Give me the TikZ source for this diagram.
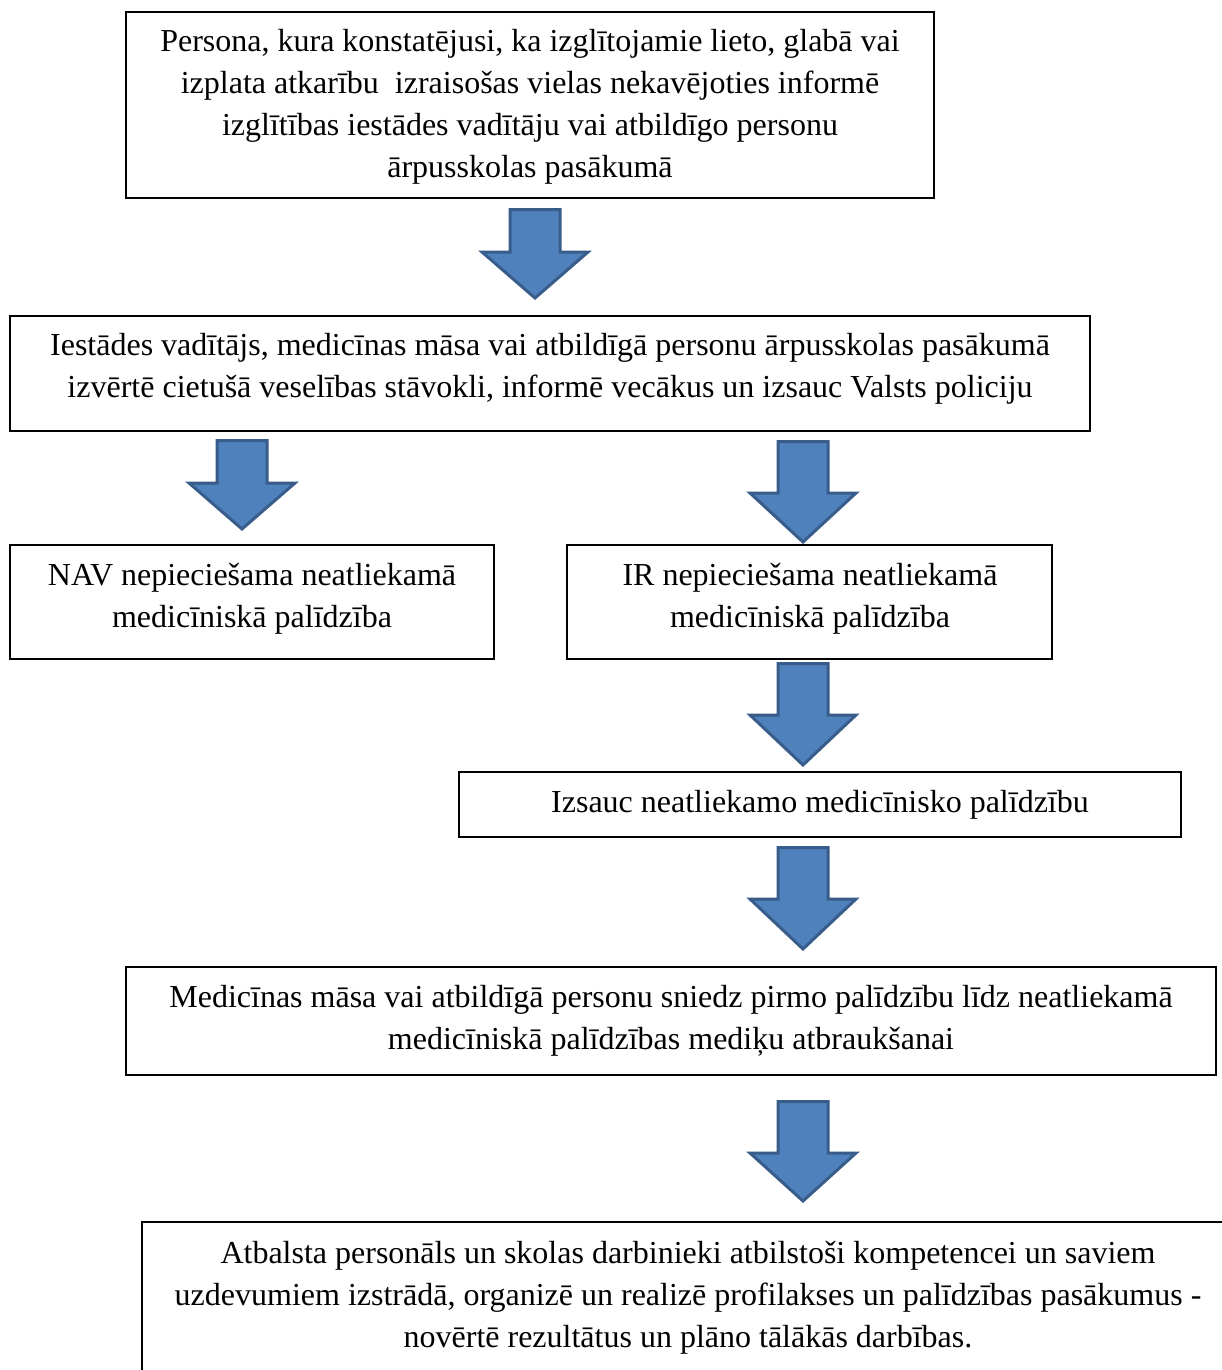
\documentclass[tikz,border=0pt]{standalone}
\usepackage{fontspec}
\setmainfont{Liberation Serif}
\definecolor{arrfill}{HTML}{4F81BD}
\definecolor{arrdraw}{HTML}{385D8A}
\newcommand\normws{\spaceskip=8pt\relax\xspaceskip=8pt\relax}
\newcommand\bArrow[4]{% x, top, wing, tip
  \draw[barrow] (#1-25,#2) -- (#1+25,#2) -- (#1+25,#3) -- (#1+53,#3) -- (#1,#4) -- (#1-53,#3) -- (#1-25,#3) -- cycle;}
\begin{document}
\begin{tikzpicture}[x=1pt,y=-1pt,
  box/.style={draw=black,line width=1.3pt,inner sep=0pt,outer sep=0pt},
  txt/.style={font=\fontsize{32}{42}\selectfont,text width=1100pt,align=center,anchor=base,inner sep=0pt,execute at begin node=\normws},
  barrow/.style={fill=arrfill,draw=arrdraw,line width=3pt,line join=miter}]
\useasboundingbox (0,0) rectangle (1222,1370);
\clip (0,0) rectangle (1222,1370);
\fill[white] (0,0) rectangle (1222,1370);
% boxes
\node[box,minimum width=808pt,minimum height=186pt] (b1) at (530,105) {};
\node[box,minimum width=1080pt,minimum height=115pt] (b2) at (550,373.5) {};
\node[box,minimum width=484pt,minimum height=114pt] (b3) at (252,602) {};
\node[box,minimum width=485pt,minimum height=114pt] (b4) at (809.5,602) {};
\node[box,minimum width=722pt,minimum height=65pt] (b5) at (820,804.5) {};
\node[box,minimum width=1090pt,minimum height=108pt] (b6) at (671,1021) {};
\node[box,minimum width=1092pt,minimum height=198pt] (b7) at (688,1321) {};
% texts
\node[txt] (t1) at (530,52) {Persona, kura konstatējusi, ka izglītojamie lieto, glabā vai\\ izplata atkarību~ izraisošas vielas nekavējoties informē\\ izglītības iestādes vadītāju vai atbildīgo personu\\ ārpusskolas pasākumā};
\node[txt] (t2) at (550,355) {Iestādes vadītājs, medicīnas māsa vai atbildīgā personu ārpusskolas pasākumā\\ izvērtē cietušā veselības stāvokli, informē vecākus un izsauc Valsts policiju};
\node[txt] (t3) at (252,585) {NAV nepieciešama neatliekamā\\ medicīniskā palīdzība};
\node[txt] (t4) at (810,585) {IR nepieciešama neatliekamā\\ medicīniskā palīdzība};
\node[txt] (t5) at (820,812) {Izsauc neatliekamo medicīnisko palīdzību};
\node[txt] (t6) at (671,1007) {Medicīnas māsa vai atbildīgā personu sniedz pirmo palīdzību līdz neatliekamā\\ medicīniskā palīdzības mediķu atbraukšanai};
\node[txt] (t7) at (688,1263) {Atbalsta personāls un skolas darbinieki atbilstoši kompetencei un saviem\\ uzdevumiem izstrādā, organizē un realizē profilakses un palīdzības pasākumus -\\ novērtē rezultātus un plāno tālākās darbības.};
% block arrows
\bArrow{535}{209.5}{252}{298}
\bArrow{242}{440.5}{483}{529}
\bArrow{803}{441.5}{493}{542}
\bArrow{803}{663.5}{715}{765}
\bArrow{803}{847.5}{899}{949}
\bArrow{803}{1101.5}{1153}{1201}
\end{tikzpicture}
\end{document}
